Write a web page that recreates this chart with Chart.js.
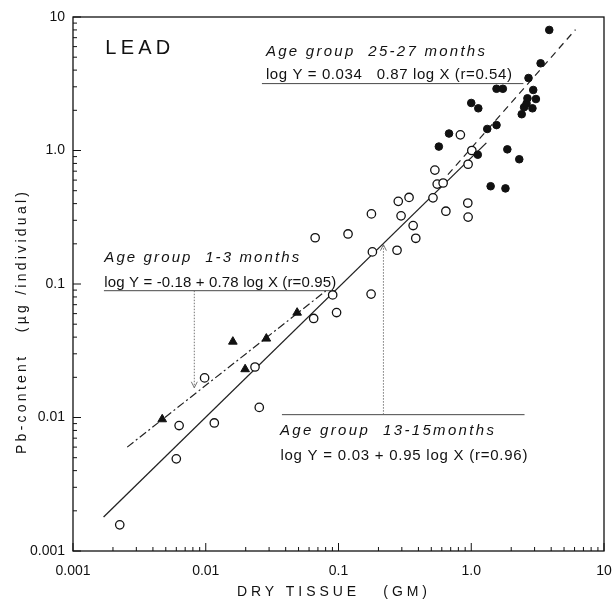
<!DOCTYPE html>
<html>
<head>
<meta charset="utf-8">
<script src="https://cdn.jsdelivr.net/npm/chart.js@4.4.1/dist/chart.umd.min.js"></script>
<style>
  html, body { margin: 0; padding: 0; background: #fff; }
</style>
</head>
<body>
<canvas id="myChart" width="612" height="605"></canvas>
<script>
// values: dry tissue (g) vs Pb content (ug / individual)
const age1X = [0.0047, 0.016, 0.0198, 0.0286, 0.0488];
const age1Y = [0.0097, 0.037, 0.023, 0.039, 0.061];

const age13X = [0.00225, 0.0060, 0.0063, 0.0098, 0.0116, 0.0235, 0.0253, 0.065, 0.0667, 0.0904,
                0.0967, 0.118, 0.177, 0.180, 0.176, 0.276, 0.282, 0.296, 0.340, 0.365,
                0.382, 0.515, 0.532, 0.554, 0.614, 0.644, 0.828, 0.942, 0.947, 0.947, 1.01];
const age13Y = [0.00157, 0.0049, 0.0087, 0.0198, 0.0091, 0.0239, 0.0119, 0.0552, 0.222, 0.0828,
                0.0611, 0.237, 0.335, 0.174, 0.084, 0.179, 0.416, 0.324, 0.445, 0.274,
                0.220, 0.442, 0.713, 0.560, 0.571, 0.351, 1.31, 0.404, 0.317, 0.789, 1.0];

const age25X = [0.57, 0.68, 1.0, 1.13, 1.12, 1.32, 1.4, 1.55, 1.55, 1.73, 1.81, 1.87,
                2.3, 2.4, 2.5, 2.61, 2.65, 2.7, 2.89, 2.93, 3.07, 3.33, 3.87];
const age25Y = [1.07, 1.34, 2.27, 2.07, 0.93, 1.45, 0.54, 1.55, 2.9, 2.9, 0.52, 1.02,
                0.86, 1.87, 2.11, 2.25, 2.46, 3.49, 2.07, 2.84, 2.43, 4.5, 8.0];

// fitted lines (end points as drawn)
const fit1X = [0.00256, 0.080];
const fit1Y = [0.0060, 0.0885];
const fit13X = [0.0017, 1.3];
const fit13Y = [0.0018, 1.14];
const fit25X = [0.667, 6.1];
const fit25Y = [0.659, 8.05];

const majorTicks = [0.001, 0.01, 0.1, 1, 10];
const tickLabels = ['0.001', '0.01', '0.1', '1.0', '10'];

const family = "'Liberation Sans', 'DejaVu Sans', sans-serif";
const ink = '#111';

// label lines & text boxes, placed in data units
const leaders = [
  { x1: 0.0265, y1: 3.17, x2: 2.47, y2: 3.17 },
  { x1: 0.00171, y1: 0.0891, x2: 0.0875, y2: 0.0891 },
  { x1: 0.0082, y1: 0.0891, x2: 0.0082, y2: 0.0167, dotted: true, arrow: true },
  { x1: 0.0375, y1: 0.0105, x2: 2.52, y2: 0.0105 },
  { x1: 0.218, y1: 0.0105, x2: 0.218, y2: 0.197, dotted: true, arrow: true }
];

const notes = [
  { text: 'LEAD', x: 0.00175, y: 5.24, size: 20, width: 65 },
  { text: 'Age group  25-27 months', x: 0.0284, y: 5.14, size: 15, italic: true, width: 219 },
  { text: 'log Y = 0.034   0.87 log X (r=0.54)', x: 0.0284, y: 3.46, size: 15, width: 246 },
  { text: 'Age group  1-3 months', x: 0.00172, y: 0.147, size: 15, italic: true, width: 195 },
  { text: 'log Y = -0.18 + 0.78 log X (r=0.95)', x: 0.00172, y: 0.0957, size: 15, width: 232 },
  { text: 'Age group  13-15months', x: 0.0362, y: 0.00736, size: 15, italic: true, width: 214 },
  { text: 'log Y = 0.03 + 0.95 log X (r=0.96)', x: 0.0365, y: 0.00484, size: 15, width: 247 }
];

const pts = (xs, ys) => xs.map((x, i) => ({ x: x, y: ys[i] }));

// spread letters so the string covers the given width
function fitText(ctx, text, x, y, width) {
  ctx.letterSpacing = '0px';
  const w = ctx.measureText(text).width;
  const gap = text.length > 1 ? (width - w) / (text.length - 1) : 0;
  ctx.letterSpacing = gap + 'px';
  ctx.fillText(text, x, y);
  ctx.letterSpacing = '0px';
}

function minorValues() {
  let out = [];
  for (let e = -3; e <= 0; e++) {
    for (let m = 1; m <= 9; m++) out.push(m * Math.pow(10, e));
  }
  out.push(10);
  return out;
}

const frame = {
  id: 'frame',
  beforeDatasetsDraw(chart) {
    const { ctx, scales: { x, y } } = chart;
    ctx.save();
    leaders.forEach((l) => {
      const ax = x.getPixelForValue(l.x1), ay = y.getPixelForValue(l.y1);
      const bx = x.getPixelForValue(l.x2), by = y.getPixelForValue(l.y2);
      ctx.strokeStyle = l.dotted ? '#666' : '#333';
      ctx.lineWidth = 0.9;
      ctx.setLineDash(l.dotted ? [1.5, 1.5] : []);
      ctx.beginPath();
      ctx.moveTo(ax, ay);
      ctx.lineTo(bx, by);
      ctx.stroke();
      if (l.arrow) {
        const dir = by > ay ? -1 : 1;
        ctx.setLineDash([]);
        ctx.beginPath();
        ctx.moveTo(bx - 3, by + dir * 6);
        ctx.lineTo(bx, by);
        ctx.lineTo(bx + 3, by + dir * 6);
        ctx.stroke();
      }
    });
    ctx.restore();
  },
  afterDraw(chart) {
    const { ctx, chartArea: a, scales: { x, y } } = chart;
    ctx.save();
    ctx.strokeStyle = ink;
    ctx.lineWidth = 1.3;
    ctx.strokeRect(a.left, a.top, a.right - a.left, a.bottom - a.top);

    // inward tick marks
    ctx.lineWidth = 1;
    minorValues().forEach((v) => {
      const major = majorTicks.some((m) => Math.abs(m - v) < m * 1e-6);
      const len = major ? 8 : 4;
      const px = x.getPixelForValue(v);
      ctx.beginPath();
      ctx.moveTo(px, a.bottom);
      ctx.lineTo(px, a.bottom - len);
      ctx.stroke();
      const py = y.getPixelForValue(v);
      ctx.beginPath();
      ctx.moveTo(a.left, py);
      ctx.lineTo(a.left + len, py);
      ctx.stroke();
    });

    ctx.fillStyle = ink;
    ctx.textAlign = 'left';
    ctx.textBaseline = 'alphabetic';
    notes.forEach((n) => {
      ctx.font = (n.italic ? 'italic ' : '') + n.size + 'px ' + family;
      fitText(ctx, n.text, x.getPixelForValue(n.x), y.getPixelForValue(n.y), n.width);
    });

    // axis titles
    ctx.font = '14px ' + family;
    ctx.textBaseline = 'middle';
    fitText(ctx, 'DRY TISSUE   (GM)', 237, 592, 190);
    ctx.translate(22, 323);
    ctx.rotate(-Math.PI / 2);
    fitText(ctx, 'Pb-content   (\u00b5g /individual)', -131, 0, 262);
    ctx.restore();
  }
};

const axisBase = {
  type: 'logarithmic',
  min: 0.001,
  max: 10,
  grid: { display: false, drawTicks: false },
  border: { display: false },
  afterBuildTicks: (s) => { s.ticks = majorTicks.map((v) => ({ value: v })); },
  ticks: {
    callback: (v, i) => tickLabels[i],
    font: { family: family, size: 14 },
    color: ink,
    padding: 8,
    maxRotation: 0,
    autoSkip: false
  }
};

new Chart(document.getElementById('myChart'), {
  type: 'scatter',
  data: {
    datasets: [
      { label: 'Age group 25-27 months', data: pts(age25X, age25Y), pointStyle: 'circle', pointRadius: 3.8,
        backgroundColor: ink, borderColor: ink, borderWidth: 1 },
      { label: 'Age group 13-15 months', data: pts(age13X, age13Y), pointStyle: 'circle', pointRadius: 4.2,
        backgroundColor: '#fff', borderColor: ink, borderWidth: 1.3 },
      { label: 'Age group 1-3 months', data: pts(age1X, age1Y), pointStyle: 'triangle', pointRadius: 5,
        backgroundColor: ink, borderColor: ink, borderWidth: 1 },
      { label: 'fit 25-27', data: pts(fit25X, fit25Y), showLine: true, pointRadius: 0,
        borderColor: '#222', borderWidth: 1.2, borderDash: [7, 5] },
      { label: 'fit 13-15', data: pts(fit13X, fit13Y), showLine: true, pointRadius: 0,
        borderColor: '#222', borderWidth: 1.3 },
      { label: 'fit 1-3', data: pts(fit1X, fit1Y), showLine: true, pointRadius: 0,
        borderColor: '#222', borderWidth: 1.2, borderDash: [8, 3, 2, 3] }
    ]
  },
  options: {
    responsive: false,
    animation: false,
    devicePixelRatio: 1,
    layout: { padding: { top: 17, right: 8, left: 0, bottom: 0 } },
    plugins: { legend: { display: false }, tooltip: { enabled: false } },
    scales: {
      x: Object.assign({}, axisBase, {
        afterFit: (s) => { s.height = 54; s.paddingLeft = 0; s.paddingRight = 0; },
        ticks: Object.assign({}, axisBase.ticks, { padding: 12 })
      }),
      y: Object.assign({}, axisBase, {
        afterFit: (s) => { s.width = 73; s.paddingTop = 0; s.paddingBottom = 0; }
      })
    }
  },
  plugins: [frame]
});
</script>
</body>
</html>
